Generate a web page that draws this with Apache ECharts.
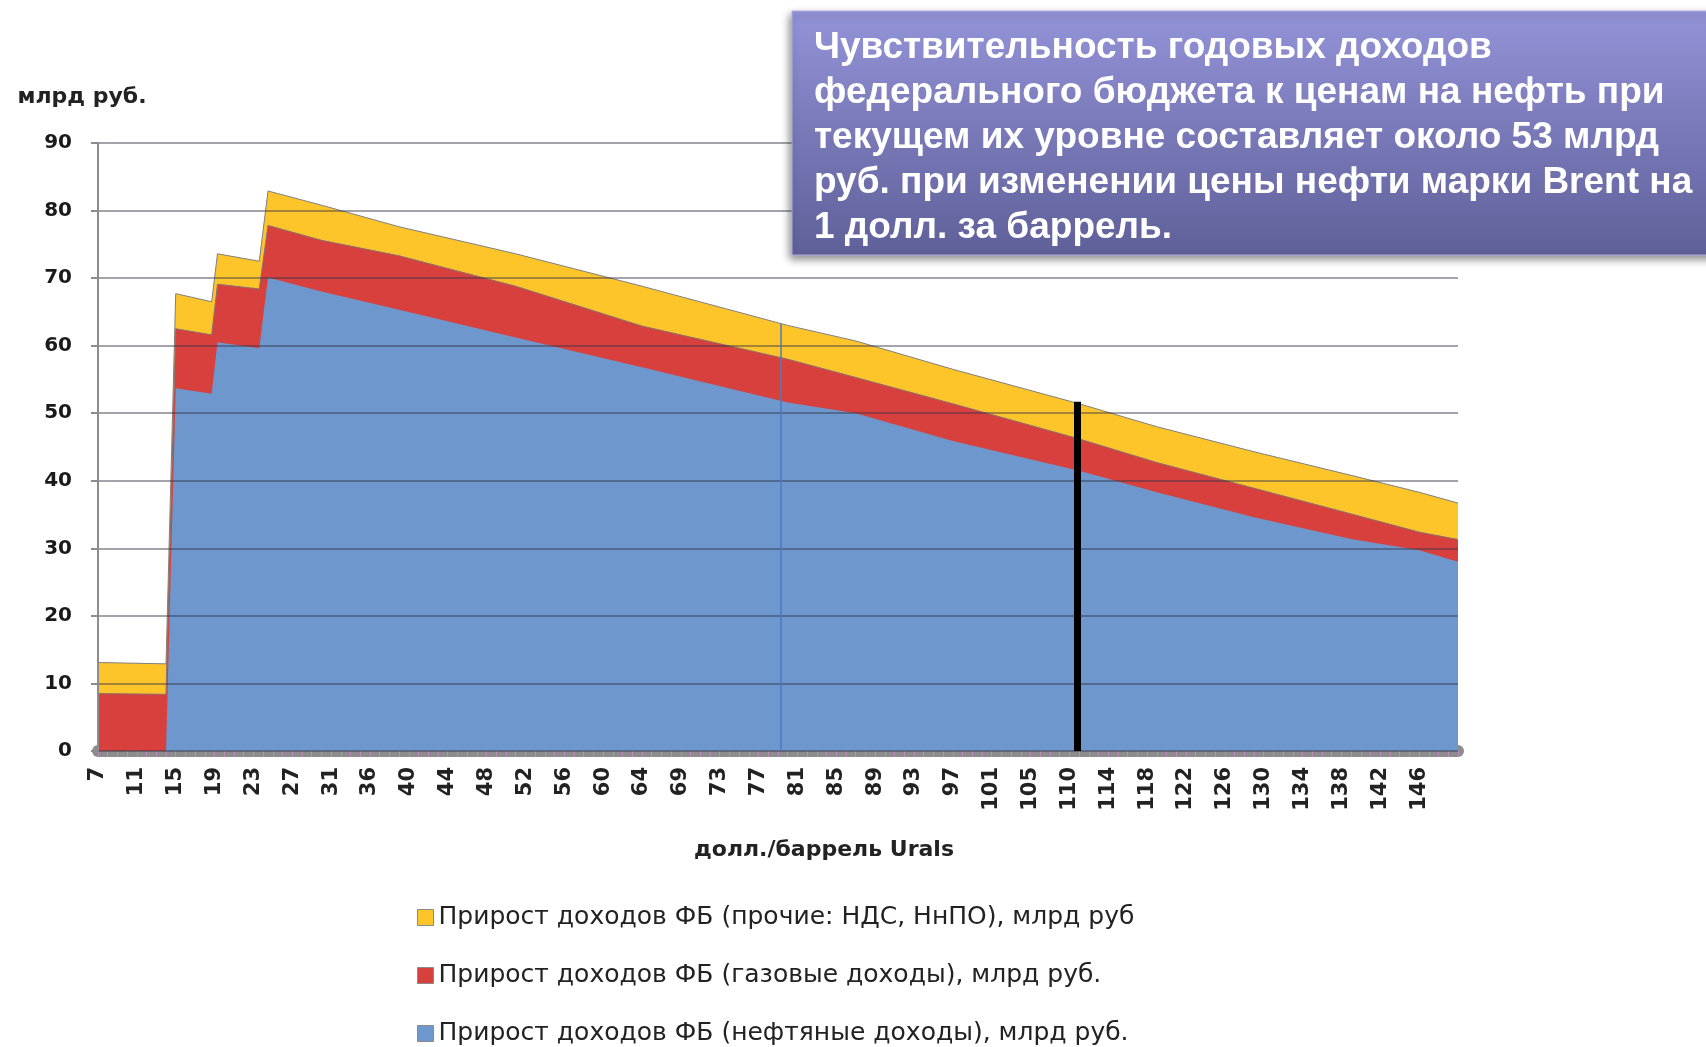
<!DOCTYPE html>
<html>
<head>
<meta charset="utf-8">
<script src="https://cdn.jsdelivr.net/npm/echarts@6/dist/echarts.min.js"></script>
<style>
html, body { margin: 0; padding: 0; background: #fff; }
#chart { width: 1706px; height: 1047px; }
</style>
</head>
<body>
<div id="chart"></div>
<script>
// x = category index (0 -> 7 $/bbl, one step per category)
const pointIdx = [0, 7, 8, 11.7, 12.3, 16.6, 17.5, 23, 31, 43, 56, 71, 78, 88, 101, 109, 119, 129, 136, 140];
const oilRev   = [0, 0, 53.7, 52.9, 60.5, 59.6, 70.1, 68.0, 65.3, 61.2, 56.8, 51.6, 50.0, 45.9, 41.5, 38.3, 34.6, 31.4, 29.7, 28.0];
const gasRev   = [8.5, 8.4, 8.8, 8.7, 8.6, 8.8, 7.7, 7.6, 8.0, 7.6, 6.1, 6.4, 5.3, 5.5, 4.7, 4.4, 4.3, 3.7, 2.7, 3.3];
const otherRev = [4.6, 4.5, 5.2, 4.9, 4.5, 4.1, 5.1, 5.2, 4.3, 4.8, 5.9, 5.0, 5.4, 5.1, 5.2, 5.3, 5.4, 5.7, 5.9, 5.4];
const tickLabels = ['7', '11', '15', '19', '23', '27', '31', '36', '40', '44', '48', '52', '56', '60', '64', '69', '73', '77',
    '81', '85', '89', '93', '97', '101', '105', '110', '114', '118', '122', '126', '130', '134', '138', '142', '146'];
const seriesNames = [
    'Прирост доходов ФБ (нефтяные доходы), млрд руб.',
    'Прирост доходов ФБ (газовые доходы), млрд руб.',
    'Прирост доходов ФБ (прочие: НДС, НнПО), млрд руб'
];
const blueMark = { idx: 70.3, top: 63.2 };
const blackMark = { idx: 100.8, top: 51.7 };
const boxLines = [
    'Чувствительность годовых доходов',
    'федерального бюджета к ценам на нефть при',
    'текущем их уровне составляет около 53 млрд',
    'руб. при изменении цены нефти марки Brent на',
    '1 долл. за баррель.'
];

// cumulative tops (stacked by hand: oil at the bottom, then gas, then other)
const gasTop = oilRev.map((v, i) => +(v + gasRev[i]).toFixed(2));
const totalTop = gasTop.map((v, i) => +(v + otherRev[i]).toFixed(2));

const chart = echarts.init(document.getElementById('chart'), null, { renderer: 'canvas' });

function areaSeries(name, vals, color, edge) {
    return {
        name: name,
        type: 'line',
        symbol: 'none',
        z: 2,
        data: pointIdx.map((x, i) => [x, vals[i]]),
        lineStyle: { width: edge ? 1 : 0, color: edge || color },
        areaStyle: { color: color, opacity: 1 },
        itemStyle: { color: color }
    };
}

const option = {
    animation: false,
    grid: { left: 98, right: 248, top: 143, bottom: 296 },
    legend: {
        orient: 'vertical',
        left: 417,
        top: 905,
        padding: 0,
        itemWidth: 16,
        itemHeight: 16,
        itemGap: 33,
        icon: 'rect',
        data: [seriesNames[2], seriesNames[1], seriesNames[0]],
        itemStyle: { borderColor: '#8a8a8a', borderWidth: 1 },
        textStyle: { fontFamily: 'DejaVu Sans', fontSize: 25, lineHeight: 24, color: '#222' }
    },
    xAxis: {
        type: 'value',
        min: 0,
        max: 140,
        interval: 4,
        offset: 6,
        name: 'долл./баррель Urals',
        nameLocation: 'middle',
        nameGap: 82,
        nameTextStyle: { fontFamily: 'DejaVu Sans', fontWeight: 'bold', fontSize: 22, color: '#222', padding: [0, 0, 0, 92] },
        axisLine: { show: true, lineStyle: { color: '#8c8c8c', width: 12 } },
        axisTick: { show: true, length: 6, lineStyle: { color: '#c08ac0', width: 1 } },
        minorTick: { show: true, splitNumber: 4, length: 6, lineStyle: { color: '#c08ac0', width: 1 } },
        axisLabel: {
            rotate: 90,
            margin: 10,
            fontFamily: 'DejaVu Sans',
            fontWeight: 'bold',
            fontSize: 21,
            color: '#222',
            formatter: v => tickLabels[v / 4] || ''
        },
        splitLine: { show: false }
    },
    yAxis: {
        type: 'value',
        min: 0,
        max: 90,
        interval: 10,
        z: 3,
        name: 'млрд руб.',
        nameLocation: 'end',
        nameGap: 35,
        nameTextStyle: { fontFamily: 'DejaVu Sans', fontWeight: 'bold', fontSize: 22, color: '#222', padding: [0, 32, 0, 0] },
        axisLine: { show: true, lineStyle: { color: '#8c8c8c', width: 2 } },
        axisTick: { show: true, length: 7, lineStyle: { color: '#8c8c8c', width: 2 } },
        axisLabel: { margin: 26, fontFamily: 'DejaVu Sans', fontWeight: 'bold', fontSize: 20, color: '#1a1a1a' },
        splitLine: { lineStyle: { color: 'rgba(50,50,70,0.45)', width: 2 } }
    },
    series: [
        areaSeries(seriesNames[2], totalTop, '#fec52a', '#7f7f7f'),
        areaSeries(seriesNames[1], gasTop, '#d8403e', '#8a7070'),
        areaSeries(seriesNames[0], oilRev, '#6d97cd', null),
        {
            name: 'marks',
            type: 'line',
            data: [],
            z: 5,
            markLine: {
                silent: true,
                symbol: 'none',
                animation: false,
                label: { show: false },
                data: [
                    [{ coord: [blueMark.idx, 0], lineStyle: { color: '#4a7bc2', width: 1.5, type: 'solid' } },
                     { coord: [blueMark.idx, blueMark.top] }],
                    [{ coord: [blackMark.idx, 0], lineStyle: { color: '#000', width: 7, type: 'solid' } },
                     { coord: [blackMark.idx, blackMark.top] }]
                ]
            }
        }
    ],
    graphic: [{
        type: 'rect',
        x: 792,
        y: 11,
        z: 100,
        shape: { x: 0, y: 0, width: 940, height: 244 },
        style: {
            fill: {
                type: 'linear', x: 0, y: 0, x2: 0, y2: 1,
                colorStops: [{ offset: 0, color: '#9393d8' }, { offset: 1, color: '#5f5f99' }]
            },
            stroke: '#b0b0e4',
            lineWidth: 1,
            shadowBlur: 8,
            shadowOffsetX: -2,
            shadowOffsetY: 4,
            shadowColor: 'rgba(0,0,0,0.45)'
        }
    }, {
        type: 'text',
        x: 814,
        y: 25,
        z: 101,
        style: {
            text: boxLines.join('\n'),
            fill: '#ffffff',
            font: 'bold 37px "Liberation Sans", Arial, sans-serif',
            lineHeight: 45
        }
    }]
};

chart.setOption(option);
</script>
</body>
</html>
